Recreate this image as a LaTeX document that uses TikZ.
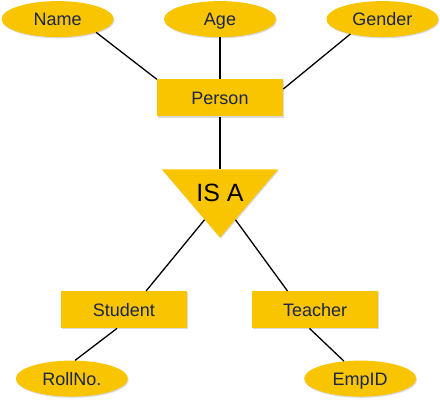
\documentclass[tikz,border=0pt]{standalone}
\usepackage{fontspec}
\setmainfont{Liberation Sans}
\usetikzlibrary{positioning,shapes.geometric,shadows,calc}
\definecolor{erfill}{RGB}{249,196,0}
\definecolor{ertext}{RGB}{27,38,74}

\begin{document}
\begin{tikzpicture}[x=1pt,y=1pt,node distance=50pt, softshadow/.style={drop shadow={shadow xshift=0.8pt,shadow yshift=-1.2pt,opacity=0.3}}, attr/.style={ellipse,fill=erfill,minimum width=112pt,minimum height=36pt,inner sep=0pt,text=ertext,text height=13pt,text depth=0pt,font=\fontsize{18}{20}\selectfont,softshadow}, ent/.style={rectangle,fill=erfill,minimum width=126pt,minimum height=37pt,inner sep=0pt,text=ertext,text height=13pt,text depth=-2pt,font=\fontsize{18}{20}\selectfont,softshadow}, isabox/.style={isosceles triangle,isosceles triangle stretches,shape border rotate=-90,fill=erfill,minimum width=116pt,minimum height=68pt,inner sep=0pt,softshadow}, isalabel/.style={inner sep=0pt,font=\fontsize{25}{28}\selectfont}, link/.style={line width=1.3pt}]
\useasboundingbox (0,0) rectangle (440,403);
\node[ent] (person) at (220,305) {Person};
\node[attr,above=42pt of person] (age) {Age};
\node[attr,left=50pt of age] (name) {Name};
\node[attr,right=50pt of age] (gender) {Gender};
\node[isabox,anchor=apex] (isa) at (220,165) {};
\node[isalabel] (isatext) at ($(isa.lower side)!0.34!(isa.apex)$) {IS A};
\node[ent,below left=53pt and 33pt of isa.apex] (student) {Student};
\node[ent,below right=53pt and 32pt of isa.apex] (teacher) {Teacher};
\node[attr,below=32pt of student,xshift=-52pt] (rollno) {RollNo.};
\node[attr,below=32pt of teacher,xshift=45pt] (empid) {EmpID};
\draw[link] (name.-19) -- (person.north west);
\draw[link] (age) -- (person);
\draw[link] (gender.-155) -- (person.8);
\draw[link] (person) -- (isa.lower side);
\draw[link] ($(isa.apex)!0.265!(isa.right corner)$) -- (student.40);
\draw[link] ($(isa.apex)!0.265!(isa.left corner)$) -- (teacher.146);
\draw[link] (student.-110) -- (rollno.80);
\draw[link] (teacher.-107) -- (empid.133);
\end{tikzpicture}
\end{document}
